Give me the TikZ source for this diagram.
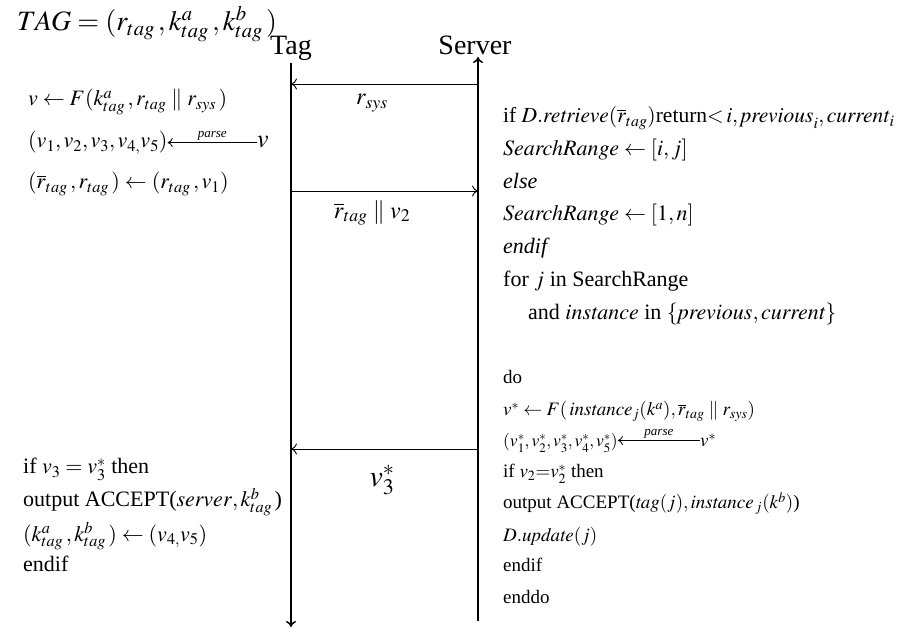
\documentclass[tikz,border=0pt]{standalone}
\usepackage{amsmath}
\usepackage{mathptmx}
\usepackage[no-math]{fontspec}
\setmainfont{Liberation Serif}
\usetikzlibrary{arrows.meta,positioning}

\begin{document}
\begin{tikzpicture}[x=1pt,y=-1pt,every node/.style={inner sep=0pt,anchor=base west,font=\fontsize{22}{26}\selectfont},
  lifeline/.style={line width=1.5pt,-{To[length=6pt,width=10pt]}},
  msg/.style={line width=0.9pt,-{To[length=6pt,width=11pt]}},
  small/.style={font=\fontsize{19}{22}\selectfont},
  huge/.style={font=\fontsize{28}{32}\selectfont}]
  \useasboundingbox (0,0) rectangle (906,628);
  % heads and life lines
  \node[huge] (tagdef) at (17,31) {$TAG=(r_{tag}\,,k^{a}_{tag}\,,k^{b}_{tag}\,)$};
  \node[huge,anchor=base] (tag) at (291,55) {Tag};
  \node[huge,anchor=base] (server) at (475,55) {Server};
  \coordinate (tagtop) at (291,63);  \coordinate (tagbot) at (291,627);
  \coordinate (srvtop) at (478,57);  \coordinate (srvbot) at (478,621);
  \draw[lifeline] (tagtop) -- (tagbot);
  \draw[lifeline] (srvbot) -- (srvtop);
  % messages
  \coordinate (m1s) at (478,84);  \coordinate (m1t) at (291,84);
  \coordinate (m2t) at (291,191); \coordinate (m2s) at (478,191);
  \coordinate (m3s) at (478,449); \coordinate (m3t) at (291,449);
  \draw[msg] (m1s) -- (m1t);
  \draw[msg] (m2t) -- (m2s);
  \draw[msg] (m3s) -- (m3t);
  \node[anchor=center,font=\fontsize{24}{28}\selectfont] (lsys) at (372,103) {$r_{sys}$};
  \node[anchor=center,font=\fontsize{24}{28}\selectfont] (lrv) at (372,213) {$\overline{r}_{tag}\parallel v_2$};
  \node[anchor=center,font=\fontsize{30}{34}\selectfont] (lv3) at (382,480) {$v_3^{*}$};
  % tag side
  \node (t1) at (28,106) {$v\leftarrow F(k^{a}_{tag}\,,r_{tag}\parallel r_{sys}\,)$};
  \node (t2) at (28,148) {$(v_1,v_2,v_3,v_{4,}v_5)$};
  \node[font=\fontsize{26}{30}\selectfont] (t2v) at (257,148) {$v$};
  \draw[line width=0.8pt,-{To[length=5pt,width=9pt]}] (t2v.west) -- (t2v.west -| t2.east) node[midway,above=2pt,font=\fontsize{13}{15}\selectfont] {\textit{parse}};
  \node (t3) at (28,189) {$(\overline{r}_{tag}\,,r_{tag}\,)\leftarrow(r_{tag}\,,v_1)$};
  \node (t4) at (23,474) {if $v_3=v_3^{*}$ then};
  \node (t5) at (23,507) {output ACCEPT($\mathit{server},k^{b}_{tag}\,$)};
  \node (t6) at (23,541) {$(k^{a}_{tag}\,,k^{b}_{tag}\,)\leftarrow(v_{4,}v_5)$};
  \node (t7) at (23,572) {endif};
  % server side
  \node[font=\fontsize{21.5}{26}\selectfont] (s1) at (503,123) {if $D.\mathit{retrieve}(\overline{r}_{tag})$return${<}\,i,\mathit{previous}_i,\mathit{current}_i$};
  \node (s2) at (503,156) {$\mathit{SearchRange}\leftarrow[i,j]$};
  \node (s3) at (503,189) {\textit{else}};
  \node (s4) at (503,221) {$\mathit{SearchRange}\leftarrow[1,n]$};
  \node (s5) at (503,254) {\textit{endif}};
  \node (s6) at (503,287) {for $j$ in SearchRange};
  \node (s7) at (528,320) {and $\mathit{instance}$ in $\{\mathit{previous},\mathit{current}\}$};
  \node[small] (s8) at (503,384) {do};
  \node[small] (s9) at (503,416) {$v^{*}\leftarrow F(\,\mathit{instance}_j(k^{a}),\overline{r}_{tag}\parallel r_{sys})$};
  \node[font=\fontsize{17.5}{21}\selectfont] (s10) at (503,447) {$(v_1^{*},v_2^{*},v_3^{*},v_4^{*},v_5^{*})$};
  \node[small] (s10v) at (700,447) {$v^{*}$};
  \draw[line width=0.8pt,-{To[length=5pt,width=9pt]}] (s10v.west) -- (s10v.west -| s10.east) node[midway,above=2pt,font=\fontsize{13}{15}\selectfont] {\textit{parse}};
  \node[small] (s11) at (503,478) {if $v_2{=}v_2^{*}$ then};
  \node[small] (s12) at (503,509) {output ACCEPT($\mathit{tag}(j),\mathit{instance}_{\,j}(k^{b})$)};
  \node[small] (s13) at (503,541) {$D.\mathit{update}(j)$};
  \node[small] (s14) at (503,572) {endif};
  \node[small] (s15) at (503,603) {enddo};
\end{tikzpicture}
\end{document}
